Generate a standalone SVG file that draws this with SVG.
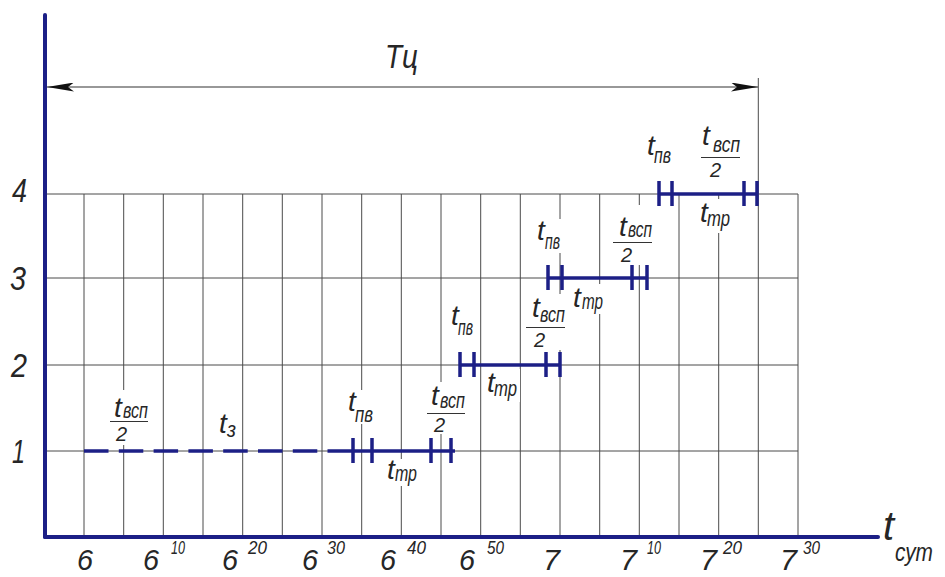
<svg xmlns="http://www.w3.org/2000/svg" width="945" height="577" viewBox="0 0 945 577">
<style>
.tx{font-family:"Liberation Sans","DejaVu Sans",sans-serif;font-style:italic;fill:#262626}
.grid{stroke:#4a4a4a;stroke-width:1;fill:none}
.axis{stroke:#1c1f86;stroke-width:4;fill:none;stroke-linecap:round}
.seg{stroke:#1c1f86;stroke-width:3.5;fill:none}
.tick{stroke:#1c1f86;stroke-width:3.5;fill:none}
.dash{stroke:#1c1f86;stroke-width:3.5;fill:none;stroke-dasharray:24.5 10.3}
.mask{fill:#fff}
.frac{stroke:#333;stroke-width:1}
.dim{stroke:#333;stroke-width:1.2;fill:none}
.t{font-size:28px}
.s{font-size:22px}
.two{font-size:20px}
.lvl{font-size:34px}
.big{font-size:30px}
.sup{font-size:18px}
</style>
<defs>
<marker id="arr" markerUnits="userSpaceOnUse" markerWidth="27" markerHeight="9" viewBox="0 0 27 9" refX="27" refY="4.5" orient="auto-start-reverse">
<path d="M0,0 L27,4.5 L0,9 L6,4.5 z" fill="#111"/>
</marker>
</defs>
<rect width="945" height="577" fill="#fff"/>

<g id="grid">
<path class="grid" d="M45,194H798M45,278H798M45,365H798M45,451H798"/>
<path class="grid" d="M84,194V536M123.7,194V536M163.3,194V536M203,194V536M242.7,194V536M282.3,194V536M322,194V536M361.7,194V536M401.3,194V536M441,194V536M480.7,194V536M520.3,194V536M560,194V536M599.7,194V536M639.3,194V536M679,194V536M718.7,194V536M758.3,78V536M798,194V536"/>
</g>

<g id="axes">
<line class="axis" x1="45" y1="15" x2="45" y2="537"/>
<line class="axis" x1="45" y1="537" x2="878" y2="537"/>
</g>

<g id="connectors">
<line class="dim" x1="47" y1="87" x2="758" y2="87" marker-start="url(#arr)" marker-end="url(#arr)"/>
</g>
<text class="tx" x="385" y="68" font-size="34" textLength="33" lengthAdjust="spacingAndGlyphs">Тц</text>

<g id="level-labels">
<text class="tx lvl" x="12" y="202" textLength="15" lengthAdjust="spacingAndGlyphs">4</text>
<text class="tx lvl" x="10" y="290" textLength="16" lengthAdjust="spacingAndGlyphs">3</text>
<text class="tx lvl" x="11" y="377" textLength="16" lengthAdjust="spacingAndGlyphs">2</text>
<text class="tx lvl" x="12" y="463" textLength="13" lengthAdjust="spacingAndGlyphs">1</text>
</g>

<g id="time-labels">
<text class="tx big" x="77" y="570" textLength="16" lengthAdjust="spacingAndGlyphs">6</text>
<text class="tx big" x="143" y="570" textLength="16" lengthAdjust="spacingAndGlyphs">6</text>
<text class="tx sup" x="171" y="554" textLength="14" lengthAdjust="spacingAndGlyphs">10</text>
<text class="tx big" x="222" y="570" textLength="16" lengthAdjust="spacingAndGlyphs">6</text>
<text class="tx sup" x="248" y="554" textLength="19" lengthAdjust="spacingAndGlyphs">20</text>
<text class="tx big" x="302" y="570" textLength="16" lengthAdjust="spacingAndGlyphs">6</text>
<text class="tx sup" x="327" y="554" textLength="18" lengthAdjust="spacingAndGlyphs">30</text>
<text class="tx big" x="380" y="570" textLength="16" lengthAdjust="spacingAndGlyphs">6</text>
<text class="tx sup" x="407" y="554" textLength="19" lengthAdjust="spacingAndGlyphs">40</text>
<text class="tx big" x="459" y="570" textLength="16" lengthAdjust="spacingAndGlyphs">6</text>
<text class="tx sup" x="487" y="554" textLength="17" lengthAdjust="spacingAndGlyphs">50</text>
<text class="tx big" x="543" y="570" textLength="17" lengthAdjust="spacingAndGlyphs">7</text>
<text class="tx big" x="620" y="570" textLength="17" lengthAdjust="spacingAndGlyphs">7</text>
<text class="tx sup" x="647" y="554" textLength="14" lengthAdjust="spacingAndGlyphs">10</text>
<text class="tx big" x="700" y="570" textLength="17" lengthAdjust="spacingAndGlyphs">7</text>
<text class="tx sup" x="723" y="554" textLength="19" lengthAdjust="spacingAndGlyphs">20</text>
<text class="tx big" x="780" y="570" textLength="17" lengthAdjust="spacingAndGlyphs">7</text>
<text class="tx sup" x="803" y="554" textLength="17" lengthAdjust="spacingAndGlyphs">30</text>
<text class="tx" x="883" y="540" font-size="40">t</text>
<text class="tx" x="895" y="561" font-size="26" textLength="38" lengthAdjust="spacingAndGlyphs">сут</text>
</g>

<g id="level4">
<rect class="mask" x="697" y="199" width="36" height="34"/>
<line class="seg" x1="659" y1="194" x2="757" y2="194"/>
<path class="tick" d="M659,181V206M672,181V206M744,181V206M757,181V206"/>
<text class="tx t" x="647" y="155">t</text><text class="tx s" x="654" y="163" textLength="17" lengthAdjust="spacingAndGlyphs">пв</text>
<text class="tx t" x="702" y="145">t</text><text class="tx s" x="713" y="152" textLength="27" lengthAdjust="spacingAndGlyphs">всп</text>
<line class="frac" x1="701" y1="157.5" x2="740" y2="157.5"/><text class="tx two" x="710" y="177">2</text>
<text class="tx t" x="700" y="222">t</text><text class="tx s" x="707" y="226" textLength="23" lengthAdjust="spacingAndGlyphs">тр</text>
</g>

<g id="level3">
<rect class="mask" x="534" y="219" width="28" height="34"/>
<rect class="mask" x="609" y="205" width="46" height="60"/>
<rect class="mask" x="570" y="284" width="36" height="30"/>
<line class="seg" x1="548" y1="278" x2="647" y2="278"/>
<path class="tick" d="M548,265V290M562,265V290M632,265V290M647,265V290"/>
<text class="tx t" x="537" y="240">t</text><text class="tx s" x="545" y="249" textLength="15" lengthAdjust="spacingAndGlyphs">пв</text>
<text class="tx t" x="619" y="236">t</text><text class="tx s" x="628" y="237" textLength="24" lengthAdjust="spacingAndGlyphs">всп</text>
<line class="frac" x1="613" y1="242.5" x2="652" y2="242.5"/><text class="tx two" x="621" y="262">2</text>
<text class="tx t" x="573" y="307">t</text><text class="tx s" x="582" y="309" textLength="21" lengthAdjust="spacingAndGlyphs">тр</text>
</g>

<g id="level2">
<rect class="mask" x="448" y="304" width="27" height="36"/>
<rect class="mask" x="522" y="294" width="46" height="56"/>
<rect class="mask" x="484" y="369" width="36" height="33"/>
<line class="seg" x1="460" y1="365" x2="560" y2="365"/>
<path class="tick" d="M460,352V377M474,352V377M546,352V377M560,352V377"/>
<text class="tx t" x="451" y="325">t</text><text class="tx s" x="458" y="335" textLength="15" lengthAdjust="spacingAndGlyphs">пв</text>
<text class="tx t" x="532" y="317">t</text><text class="tx s" x="540" y="322" textLength="25" lengthAdjust="spacingAndGlyphs">всп</text>
<line class="frac" x1="526" y1="327.5" x2="565" y2="327.5"/><text class="tx two" x="534" y="347">2</text>
<text class="tx t" x="487" y="392">t</text><text class="tx s" x="494" y="396" textLength="23" lengthAdjust="spacingAndGlyphs">тр</text>
</g>

<g id="level1">
<rect class="mask" x="106" y="390" width="46" height="55"/>
<rect class="mask" x="216" y="409" width="22" height="31"/>
<rect class="mask" x="345" y="390" width="31" height="34"/>
<rect class="mask" x="423" y="382" width="45" height="52"/>
<rect class="mask" x="384" y="459" width="36" height="27"/>
<line class="dash" x1="84" y1="451" x2="318" y2="451"/>
<line class="seg" x1="327.5" y1="451" x2="455" y2="451"/>
<path class="tick" d="M353,438V463M372,438V463M431,438V463M451,438V463"/>
<text class="tx t" x="114" y="417">t</text><text class="tx s" x="123" y="418" textLength="25" lengthAdjust="spacingAndGlyphs">всп</text>
<line class="frac" x1="110" y1="421.5" x2="148" y2="421.5"/><text class="tx two" x="116" y="441">2</text>
<text class="tx t" x="219" y="433">t</text><text class="tx s" x="227" y="437" textLength="9" lengthAdjust="spacingAndGlyphs">з</text>
<text class="tx t" x="348" y="411">t</text><text class="tx s" x="355" y="422" textLength="18" lengthAdjust="spacingAndGlyphs">пв</text>
<text class="tx t" x="431" y="405">t</text><text class="tx s" x="440" y="408" textLength="25" lengthAdjust="spacingAndGlyphs">всп</text>
<line class="frac" x1="427" y1="413.5" x2="465" y2="413.5"/><text class="tx two" x="434" y="432">2</text>
<text class="tx t" x="387" y="479">t</text><text class="tx s" x="395" y="481" textLength="22" lengthAdjust="spacingAndGlyphs">тр</text>
</g>
</svg>
